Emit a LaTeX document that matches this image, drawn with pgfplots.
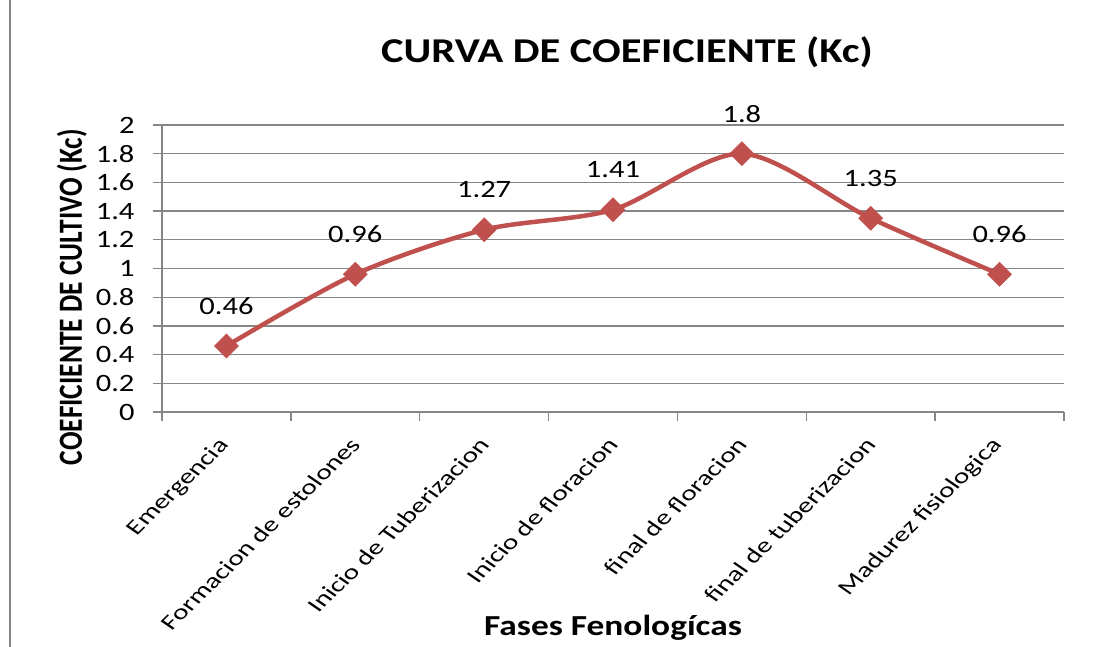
\documentclass[border=0pt]{standalone}
\usepackage{graphicx}
\usepackage{pgfplots}
\pgfplotsset{compat=1.18}
\usepackage{fontspec}
\setmainfont{Carlito}[FakeStretch=1.22]
\definecolor{kcred}{HTML}{C0504D}
\definecolor{linegray}{HTML}{868686}
% rotated texts are widened after rotation, as in the reference
\newcommand{\cat}[1]{\scalebox{1.22}[1]{\rotatebox{50}{#1}}}
\begin{document}
\begin{tikzpicture}
\begin{axis}[
  scale only axis,
  width=902pt, height=287pt,
  xmin=0, xmax=7,
  ymin=0, ymax=2,
  axis lines*=left,
  axis line style={linegray, line width=1.3pt},
  ymajorgrids,
  grid style={linegray, line width=1.3pt},
  tick align=outside,
  major tick length=9pt,
  minor tick length=9pt,
  tick style={linegray, line width=1.3pt},
  major x tick style={draw=none},
  xtick={0.5,1.5,2.5,3.5,4.5,5.5,6.5},
  minor xtick={0,1,2,3,4,5,6,7},
  xticklabels={\cat{Emergencia}, \cat{Formacion de estolones},
    \cat{Inicio de Tuberizacion}, \cat{Inicio de floracion},
    \cat{final de floracion}, \cat{final de tuberizacion},
    \cat{Madurez fisiologica}},
  xticklabel style={font=\fontsize{20.5}{20.5}\selectfont,
    anchor=north east, xshift=10pt, yshift=-12pt},
  ytick={0,0.2,0.4,0.6,0.8,1,1.2,1.4,1.6,1.8,2},
  yticklabel style={font=\fontsize{25}{25}\selectfont, xshift=-15pt,
    /pgf/number format/fixed, /pgf/number format/precision=1},
  /pgf/number format/assume math mode=true,
  title={CURVA DE COEFICIENTE (Kc)},
  title style={font=\bfseries\fontsize{34.8}{34.8}\selectfont,
    at={(rel axis cs:0.5155,1.233)}, anchor=center},
  xlabel={Fases Fenologícas},
  xlabel style={font=\bfseries\fontsize{29}{29}\selectfont,
    at={(rel axis cs:0.5,-0.753)}, anchor=center},
  ylabel={\scalebox{1.5}[1]{\rotatebox{90}{COEFICIENTE DE CULTIVO (Kc)}}},
  ylabel style={font=\bfseries\fontsize{22.5}{22.5}\selectfont,
    at={(rel axis cs:-0.0998,0.40)}, anchor=center, rotate=-90},
  clip=false,
]
\addplot[kcred, line width=4.5pt, smooth,
  mark=square*, mark size=8.5pt,
  mark options={rotate=45, line width=0.5pt, fill=kcred},
  nodes near coords,
  nodes near coords style={black, font=\fontsize{25}{25}\selectfont,
    anchor=center, yshift=40pt,
    /pgf/number format/fixed, /pgf/number format/precision=2},
] coordinates {
  (0.5,0.46) (1.5,0.96) (2.5,1.27) (3.5,1.41)
  (4.5,1.80) (5.5,1.35) (6.5,0.96)
};
\coordinate (O) at (rel axis cs:0,0);
\end{axis}
\pgfresetboundingbox
\path[use as bounding box] (O) ++(-162pt,-234pt) rectangle ++(1095pt,646pt);
% chart frame: only its left and top edges show
\draw[linegray, line width=2.5pt]
  (O) ++(-152pt,-250pt) -- ++(0pt,871pt) -- ++(1120pt,0pt);
\end{tikzpicture}
\end{document}
